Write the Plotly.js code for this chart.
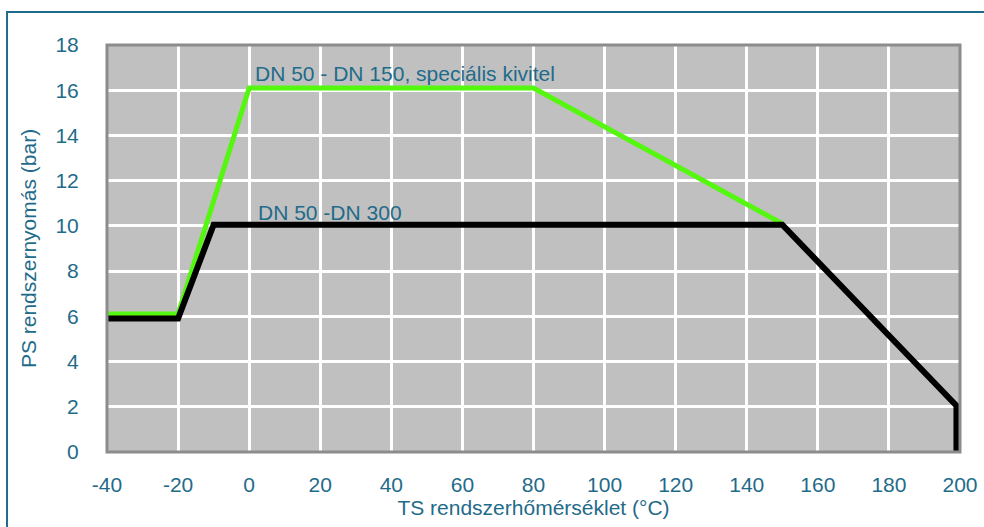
<!DOCTYPE html>
<html>
<head>
<meta charset="utf-8">
<script src="https://cdn.plot.ly/plotly-3.0.1.min.js"></script>
<style>body{margin:0;padding:0;background:#fff}#chart{width:984px;height:527px}</style>
</head>
<body>
<div id="chart"></div>
<script>
// Series: DN 50 - DN 150, speciális kivitel (green)
const greenX = [-40, -20, 0, 80, 150];
const greenY = [6.1, 6.1, 16.1, 16.1, 10.1];
// Series: DN 50 -DN 300 (black)
const blackX = [-40, -20, -10, 150, 199, 199];
const blackY = [5.9, 5.9, 10.05, 10.05, 2.05, 0];
const xTicks = [-40, -20, 0, 20, 40, 60, 80, 100, 120, 140, 160, 180, 200];
const yTicks = [0, 2, 4, 6, 8, 10, 12, 14, 16, 18];
const labelGreen = 'DN 50 - DN 150, speciális kivitel';
const labelBlack = 'DN 50 -DN 300';
const xTitle = 'TS rendszerhőmérséklet (°C)';
const yTitle = 'PS rendszernyomás (bar)';

const txt = '#1f6b8a';
const font = {family: 'Liberation Sans, Arial, sans-serif', size: 21, color: txt};

const traces = [
  {x: greenX, y: greenY, mode: 'lines', line: {color: '#55f711', width: 5}, hoverinfo: 'skip'},
  {x: blackX, y: blackY, mode: 'lines', line: {color: '#000000', width: 6}, hoverinfo: 'skip'}
];

const layout = {
  width: 984, height: 527,
  margin: {l: 107, r: 24, t: 45, b: 75},
  paper_bgcolor: '#ffffff',
  plot_bgcolor: '#c0c0c0',
  showlegend: false,
  font: font,
  xaxis: {
    range: [-40, 200], tickvals: xTicks, ticktext: xTicks.map(String),
    showgrid: true, gridcolor: '#ffffff', gridwidth: 3,
    zeroline: false, showline: false, ticks: 'outside', ticklen: 14, tickcolor: 'rgba(0,0,0,0)',
    tickfont: font,
    title: {text: xTitle, font: font, standoff: 4}
  },
  yaxis: {
    range: [0, 18], tickvals: yTicks, ticktext: yTicks.map(String),
    showgrid: true, gridcolor: '#ffffff', gridwidth: 3,
    zeroline: false, showline: false, ticks: 'outside', ticklen: 23, tickcolor: 'rgba(0,0,0,0)',
    tickfont: font,
    title: {text: yTitle, font: font, standoff: 13}
  },
  shapes: [
    {type: 'rect', xref: 'paper', yref: 'paper', x0: 0, x1: 1, y0: 0, y1: 1,
     line: {color: '#8c8c8c', width: 3}, fillcolor: 'rgba(0,0,0,0)', layer: 'above'},
    {type: 'rect', xref: 'paper', yref: 'paper', x0: -0.1172, x1: 1.04, y0: -0.2, y1: 1.081,
     line: {color: '#1f6b8a', width: 2}, fillcolor: 'rgba(0,0,0,0)', layer: 'below'}
  ],
  annotations: [
    {x: 1, y: 16.75, xref: 'x', yref: 'y', text: labelGreen, showarrow: false,
     xanchor: 'left', yanchor: 'middle', font: font},
    {x: 2, y: 10.6, xref: 'x', yref: 'y', text: labelBlack, showarrow: false,
     xanchor: 'left', yanchor: 'middle', font: font}
  ]
};

Plotly.newPlot('chart', traces, layout, {displayModeBar: false, staticPlot: true});
</script>
</body>
</html>
